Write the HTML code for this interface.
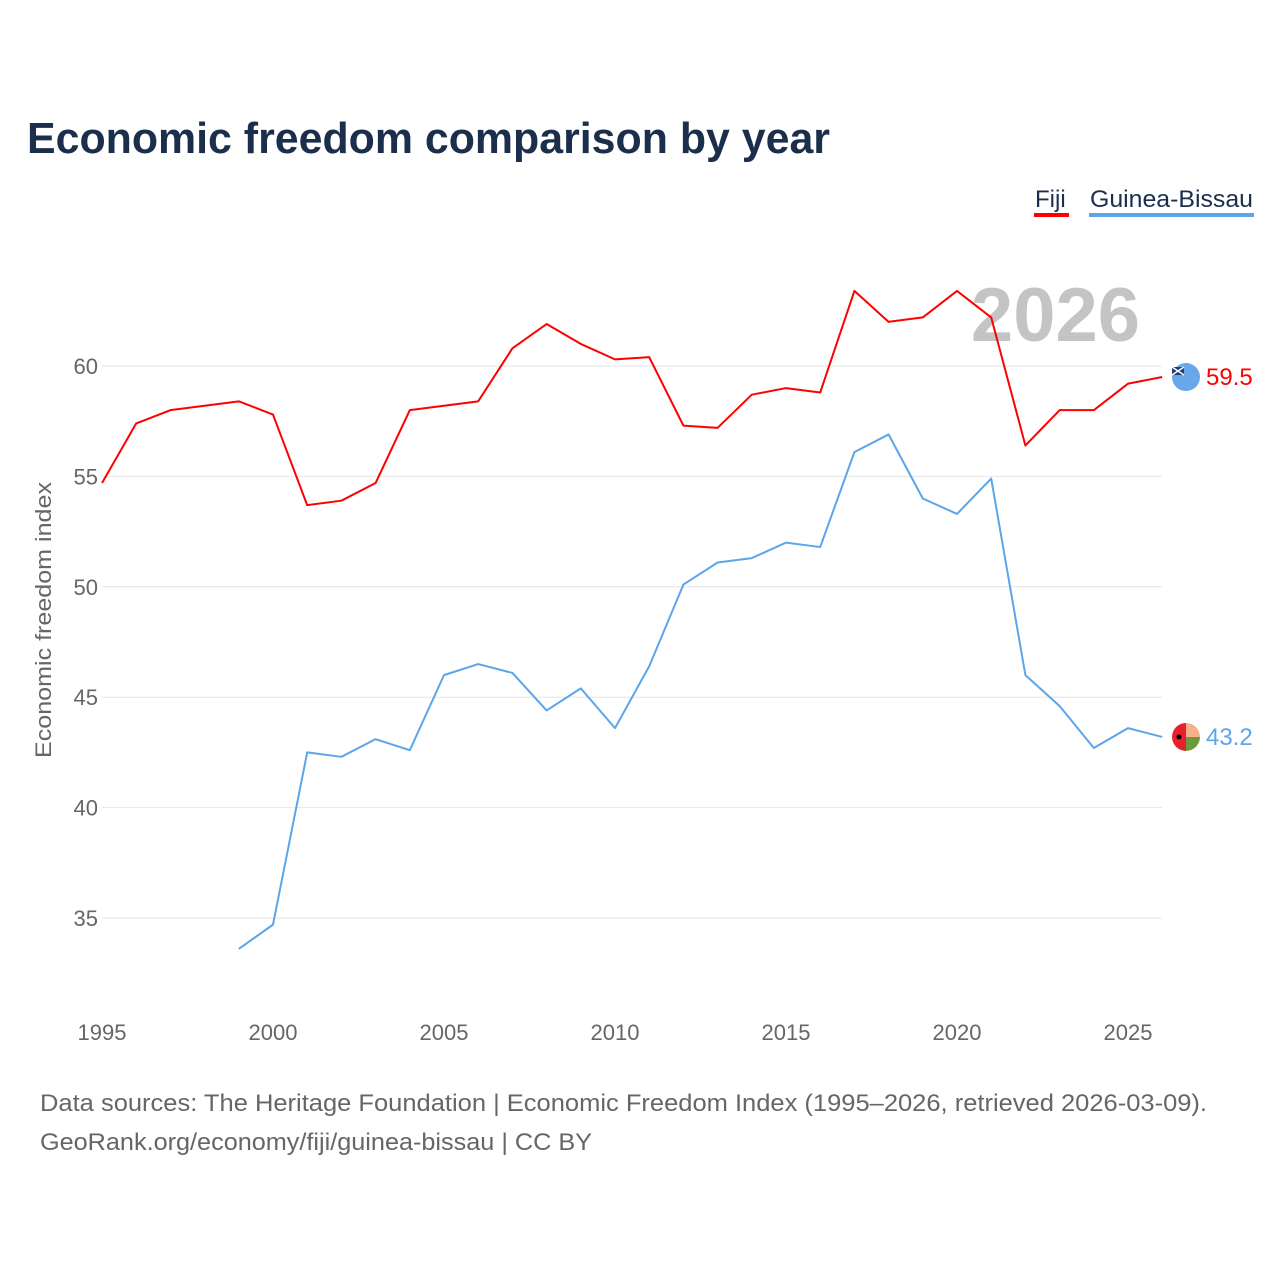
<!DOCTYPE html>
<html><head><meta charset="utf-8"><style>
body{margin:0;background:#fff;font-family:"Liberation Sans",sans-serif;}
svg text{font-family:"Liberation Sans",sans-serif;}
</style></head><body>
<svg width="1280" height="1280" viewBox="0 0 1280 1280">
<rect width="1280" height="1280" fill="#fff"/>
<text x="27" y="153" font-size="44" font-weight="bold" fill="#1b2f4d" textLength="803" lengthAdjust="spacingAndGlyphs">Economic freedom comparison by year</text>
<g>
<text x="1035" y="207" font-size="24" fill="#1b2f4d">Fiji</text>
<rect x="1034" y="213" width="35" height="4" fill="#ff0000"/>
<text x="1090" y="207" font-size="24" fill="#1b2f4d" textLength="163" lengthAdjust="spacingAndGlyphs">Guinea-Bissau</text>
<rect x="1089" y="213" width="165" height="4" fill="#5ba5ea"/>
</g>
<text x="1140" y="341" font-size="76" font-weight="bold" fill="#c4c4c4" text-anchor="end">2026</text>
<g id="grid"></g><g id="xt"></g><g id="lines"></g>
<text transform="translate(51,620) rotate(-90)" font-size="22" fill="#666" text-anchor="middle" textLength="276" lengthAdjust="spacingAndGlyphs">Economic freedom index</text>
<text x="40" y="1111" font-size="24" fill="#666" textLength="1167" lengthAdjust="spacingAndGlyphs">Data sources: The Heritage Foundation | Economic Freedom Index (1995–2026, retrieved 2026-03-09).</text>
<text x="40" y="1150" font-size="24" fill="#666" textLength="552" lengthAdjust="spacingAndGlyphs">GeoRank.org/economy/fiji/guinea-bissau | CC BY</text>
</svg>
<script>
const years=[1995,1996,1997,1998,1999,2000,2001,2002,2003,2004,2005,2006,2007,2008,2009,2010,2011,2012,2013,2014,2015,2016,2017,2018,2019,2020,2021,2022,2023,2024,2025,2026];
const fiji=[54.7,57.4,58.0,58.2,58.4,57.8,53.7,53.9,54.7,58.0,58.2,58.4,60.8,61.9,61.0,60.3,60.4,57.3,57.2,58.7,59.0,58.8,63.4,62.0,62.2,63.4,62.2,56.4,58.0,58.0,59.2,59.5];
const gb=[null,null,null,null,33.6,34.7,42.5,42.3,43.1,42.6,46.0,46.5,46.1,44.4,45.4,43.6,46.4,50.1,51.1,51.3,52.0,51.8,56.1,56.9,54.0,53.3,54.9,46.0,44.6,42.7,43.6,43.2];
const yTicks=[35,40,45,50,55,60];
const xTicks=[1995,2000,2005,2010,2015,2020,2025];
const X=y=>102+(y-1995)*34.2;
const Y=v=>366+(60-v)*22.08;
const NS="http://www.w3.org/2000/svg";
function mk(t,a,p){const e=document.createElementNS(NS,t);for(const k in a)e.setAttribute(k,a[k]);p.appendChild(e);return e;}
const g=document.getElementById('grid');
yTicks.forEach(v=>{
 const l=mk('line',{x1:102,x2:1162,y1:Y(v),y2:Y(v),stroke:'#e6e6e6','stroke-width':1},g);
 
 
 const t=mk('text',{x:98,y:Y(v)+8,'font-size':22,fill:'#666','text-anchor':'end'},g);t.textContent=v;
 
 
});
const xt=document.getElementById('xt');
xTicks.forEach(v=>{
 const t=mk('text',{x:X(v),y:1040,'font-size':22,fill:'#666','text-anchor':'middle'},xt);t.textContent=v;
 
 
});
const lg=document.getElementById('lines');
function series(d,c,name,flag){
 let s='';d.forEach((v,i)=>{if(v!=null)s+=(s?'L':'M')+X(years[i])+','+Y(v);});
 const p=mk('path',{d:s,fill:'none',stroke:c,'stroke-width':2,'stroke-linejoin':'round'},lg);
 
 
 const last=d[d.length-1];
 const cy=Y(last);
 const fg=mk('g',{},lg);
 
 
 flag(fg,1186,cy);
 const t=mk('text',{x:1206,y:cy+8,'font-size':24,fill:c},lg);t.textContent=last.toFixed(1);
 
 
}
series(fiji,'#ff0000','fiji',(p,x,y)=>{
 mk('circle',{cx:x,cy:y,r:14,fill:'#68a8e8'},p);
 mk('rect',{x:x-14,y:y-10,width:12,height:8,fill:'#1e3c78'},p);
 mk('path',{d:`M${x-14},${y-10}L${x-2},${y-2}M${x-2},${y-10}L${x-14},${y-2}`,stroke:'#fff','stroke-width':1.5},p);
});
series(gb,'#5ba5ea','guinea-bissau',(p,x,y)=>{
 mk('path',{d:`M${x},${y}L${x},${y-14}A14,14 0 0 1 ${x+14},${y}Z`,fill:'#f8b08a'},p);
 mk('path',{d:`M${x},${y}L${x+14},${y}A14,14 0 0 1 ${x},${y+14}Z`,fill:'#6a9a3a'},p);
 mk('path',{d:`M${x},${y-14}A14,14 0 0 0 ${x},${y+14}Z`,fill:'#e8202a'},p);
 mk('circle',{cx:x-7,cy:y,r:2.5,fill:'#000'},p);
});
</script>
</body></html>
